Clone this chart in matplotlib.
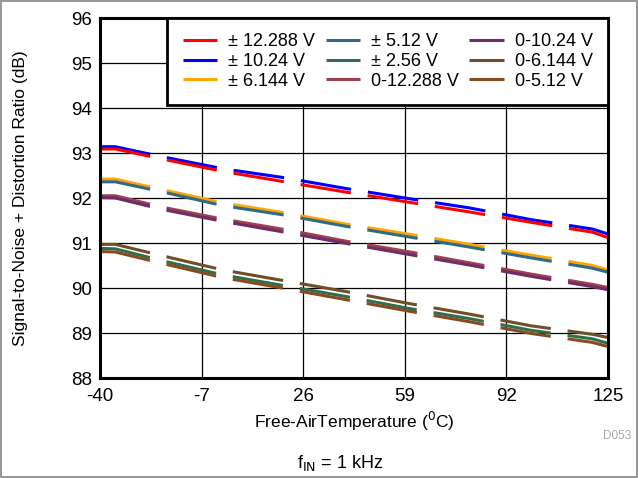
import numpy as np
import matplotlib.pyplot as plt

# temperatura (C) e SINAD (dB)
temps = [-40, -35, -20, 0, 20, 40, 60, 80, 100, 120, 125]

sinad_pm12288 = [93.09, 93.09, 92.87, 92.59, 92.36, 92.13, 91.91, 91.69, 91.46, 91.24, 91.12]
sinad_pm1024 = [93.14, 93.14, 92.92, 92.65, 92.45, 92.21, 91.99, 91.78, 91.52, 91.31, 91.20]
sinad_pm6144 = [92.42, 92.42, 92.19, 91.89, 91.67, 91.42, 91.20, 90.97, 90.73, 90.50, 90.40]
sinad_pm512 = [92.36, 92.36, 92.14, 91.83, 91.62, 91.37, 91.14, 90.91, 90.67, 90.44, 90.35]
sinad_pm256 = [90.88, 90.87, 90.61, 90.29, 90.05, 89.81, 89.55, 89.32, 89.06, 88.87, 88.77]
sinad_012288 = [92.05, 92.05, 91.80, 91.53, 91.30, 91.04, 90.81, 90.56, 90.31, 90.08, 90.01]
sinad_01024 = [92.01, 92.00, 91.75, 91.48, 91.24, 90.99, 90.75, 90.51, 90.26, 90.03, 89.96]
sinad_06144 = [90.97, 90.97, 90.72, 90.40, 90.16, 89.92, 89.66, 89.42, 89.16, 88.97, 88.90]
sinad_0512 = [90.81, 90.80, 90.55, 90.23, 89.99, 89.74, 89.49, 89.25, 88.99, 88.79, 88.70]

labels = ['± 12.288 V', '± 10.24 V', '± 6.144 V',
          '± 5.12 V', '± 2.56 V', '0-12.288 V',
          '0-10.24 V', '0-6.144 V', '0-5.12 V']
series = [sinad_pm12288, sinad_pm1024, sinad_pm6144,
          sinad_pm512, sinad_pm256, sinad_012288,
          sinad_01024, sinad_06144, sinad_0512]
cores = ['#FF0000', '#0000FF', '#FFA500',
         '#2F6A88', '#2C6E4E', '#A0404B',
         '#6B2D6B', '#6E4F26', '#8A4A1F']

xticks = [-40, -7, 26, 59, 92, 125]
yticks = [88, 89, 90, 91, 92, 93, 94, 95, 96]

plt.rcParams['lines.scale_dashes'] = False
plt.rcParams['axes.unicode_minus'] = False
plt.rcParams['font.family'] = ['Liberation Sans', 'DejaVu Sans']

fig = plt.figure(figsize=(6.38, 4.78), dpi=100, edgecolor='#999999', linewidth=1.5)
ax = fig.add_axes([0.1567, 0.2092, 0.7962, 0.7531])

px = 0.72  # 1 pixel em pontos
tracejado = [51 * px, 17 * px]

# ordem de desenho: de baixo para cima
ordem = [7, 4, 8, 5, 6, 2, 3, 1, 0]
linhas = {}
for i in ordem:
    l, = ax.plot(temps, series[i], color=cores[i], linewidth=2.2, label=labels[i],
                 solid_capstyle='butt', dash_capstyle='butt')
    l.set_dashes(tracejado)
    linhas[i] = l

ax.set_xlim(-40, 125)
ax.set_ylim(88, 96)
ax.set_xticks(xticks)
ax.set_yticks(yticks)
ax.tick_params(axis='y', length=0, labelsize=13.5, pad=6)
ax.tick_params(axis='x', length=0, labelsize=13.5, pad=7)
ax.grid(True, color='black', linewidth=0.9)
ax.set_axisbelow(True)
for s in ax.spines.values():
    s.set_linewidth(2.2)

ax.set_xlabel('Free-AirTemperature ($^{0}$C)', fontsize=12.5, labelpad=4)
ax.set_ylabel('Signal-to-Noise + Distortion Ratio (dB)', fontsize=12.5)
ax.yaxis.set_label_coords(-0.142, 0.5)

leg = ax.legend([linhas[i] for i in range(9)], labels, ncol=3, loc='upper right',
                bbox_to_anchor=(1.0, 1.0), fontsize=13, frameon=True, fancybox=False,
                edgecolor='black', handlelength=1.9, handletextpad=0.6,
                columnspacing=0.6, labelspacing=0.15, borderpad=0.85, borderaxespad=0.0)
leg.get_frame().set_linewidth(2.0)
leg.get_frame().set_alpha(1)
for h in leg.get_lines():
    h.set_linestyle('-')
    h.set_linewidth(2.2)

fig.text(0.99, 0.088, 'D053', fontsize=8.5, color='#aaaaaa', ha='right', va='center')
fig.text(0.533, 0.031, 'f$_{\\mathrm{IN}}$ = 1 kHz', fontsize=13, ha='center', va='center')

plt.savefig('out.png', dpi=100, edgecolor=fig.get_edgecolor())
